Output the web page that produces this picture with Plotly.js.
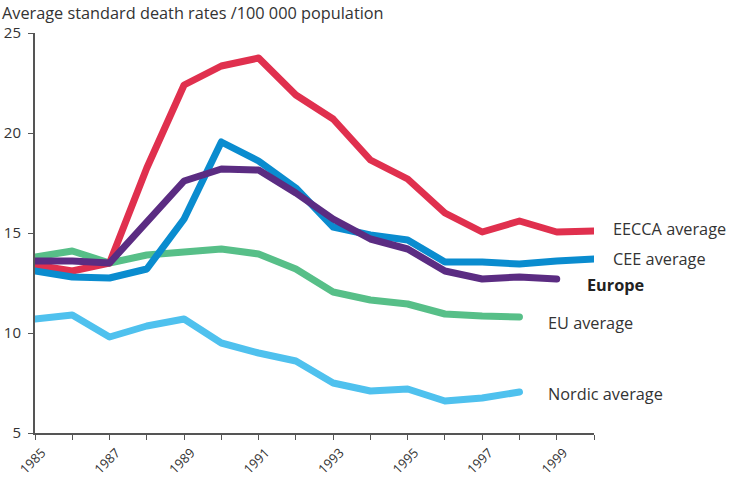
<!DOCTYPE html>
<html>
<head>
<meta charset="utf-8">
<script src="https://cdn.plot.ly/plotly-3.0.1.min.js"></script>
<style>
html,body{margin:0;padding:0;background:#fff;}
.scatterlayer .js-line{stroke-linecap:round;stroke-linejoin:round;}
</style>
</head>
<body>
<div id="chart" style="width:734px;height:478px;"></div>
<script>
const years = [1985,1986,1987,1988,1989,1990,1991,1992,1993,1994,1995,1996,1997,1998,1999,2000];
const eecca = [13.4,13.1,13.5,18.25,22.4,23.35,23.75,21.9,20.7,18.65,17.7,16.0,15.05,15.6,15.05,15.1];
const cee = [13.1,12.8,12.75,13.2,15.7,19.55,18.6,17.25,15.3,14.9,14.65,13.55,13.55,13.45,13.6,13.7];
const europe = [13.6,13.6,13.5,15.6,17.6,18.2,18.15,17.0,15.7,14.7,14.2,13.1,12.7,12.8,12.7];
const eu = [13.8,14.1,13.5,13.9,14.05,14.2,13.95,13.2,12.05,11.65,11.45,10.95,10.85,10.8];
const nordic = [10.7,10.9,9.8,10.35,10.7,9.5,9.0,8.6,7.5,7.1,7.2,6.6,6.75,7.05];
const seriesNames = ['EECCA average','CEE average','Europe','EU average','Nordic average'];
const tickLabels = years.map(y => (y % 2 === 1 ? String(y) : ''));

const colors = {eecca:'#e0304e', cee:'#0a8ccf', europe:'#5b2c82', eu:'#57bf88', nordic:'#4fc1ee'};
function tr(vals, color, name){
  return {x: years.slice(0, vals.length), y: vals, name: name, type:'scatter', mode:'lines',
    line:{color: color, width:7}, cliponaxis:false, hoverinfo:'skip'};
}
const data = [
  tr(nordic, colors.nordic, seriesNames[4]),
  tr(eu, colors.eu, seriesNames[3]),
  tr(eecca, colors.eecca, seriesNames[0]),
  tr(cee, colors.cee, seriesNames[1]),
  tr(europe, colors.europe, seriesNames[2])
];
const font = '"Open Sans", "Noto Sans", sans-serif';
const X0 = 35, W = 559;
function lab(text, px, yVal, bold){
  return {xref:'paper', yref:'y', x:(px - X0)/W, y:yVal, text: bold ? '<b>'+text+'</b>' : text,
    showarrow:false, xanchor:'left', yanchor:'middle', borderpad:0,
    font:{family:font, size:16.3, color: bold ? '#222' : '#333'}};
}
const layout = {
  width:734, height:478,
  margin:{l:35, r:140, t:33, b:45},
  paper_bgcolor:'#fff', plot_bgcolor:'#fff',
  showlegend:false,
  font:{family:font, size:15, color:'#333'},
  title:{text:'Average standard death rates /100 000 population', xref:'container', yref:'container',
    x:2/734, xanchor:'left', y:1-13/478, yanchor:'middle', font:{family:font, size:16.3, color:'#333'}},
  xaxis:{range:[1985,2000], tickvals:years, ticktext:tickLabels, tickangle:-45,
    ticks:'outside', ticklen:5, tickcolor:'#555', showline:true, linecolor:'#555', linewidth:2,
    ticklabelshift:7, ticklabelstandoff:0,
    showgrid:false, zeroline:false, tickfont:{family:font, size:13, color:'#333'}},
  yaxis:{range:[5,25], tickvals:[5,10,15,20,25], ticks:'outside', ticklen:5, tickcolor:'#555',
    showline:true, linecolor:'#555', linewidth:2, showgrid:false, zeroline:false,
    ticklabelstandoff:4,
    tickfont:{family:font, size:15, color:'#333'}},
  annotations:[
    lab(seriesNames[0], 612, 15.2, false),
    lab(seriesNames[1], 612, 13.7, false),
    lab(seriesNames[2], 586, 12.4, true),
    lab(seriesNames[3], 547, 10.5, false),
    lab(seriesNames[4], 547, 6.95, false)
  ]
};
Plotly.newPlot('chart', data, layout, {staticPlot:true, displayModeBar:false});
</script>
</body>
</html>
